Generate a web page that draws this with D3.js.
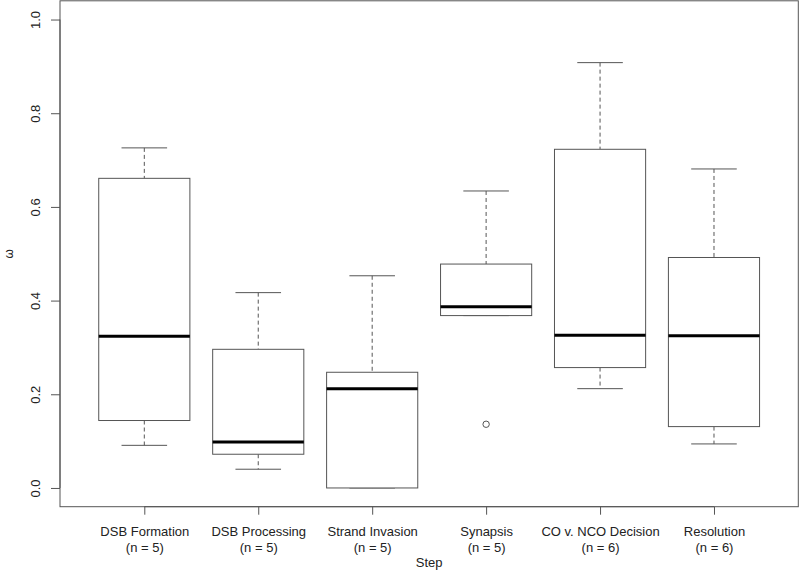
<!DOCTYPE html>
<html>
<head>
<meta charset="utf-8">
<script src="https://cdn.jsdelivr.net/npm/d3@7"></script>
<style>
  html, body { margin: 0; padding: 0; background: #fff; }
  svg { display: block; font-family: "Liberation Sans", Arial, Helvetica, sans-serif; }
</style>
</head>
<body>
<svg id="chart" width="800" height="572"></svg>
<script>
// ---- data ----
const categories = ["DSB Formation", "DSB Processing", "Strand Invasion", "Synapsis", "CO v. NCO Decision", "Resolution"];
const nCounts = [5, 5, 5, 5, 6, 6];
const whiskerLow  = [0.091, 0.040, 0.000, 0.368, 0.212, 0.094];
const q1          = [0.144, 0.072, 0.000, 0.368, 0.257, 0.131];
const medians     = [0.324, 0.098, 0.212, 0.387, 0.326, 0.325];
const q3          = [0.661, 0.296, 0.247, 0.478, 0.723, 0.492];
const whiskerHigh = [0.726, 0.417, 0.453, 0.634, 0.908, 0.681];
const outliers    = [[], [], [], [0.136], [], []];
const yTicks = [0.0, 0.2, 0.4, 0.6, 0.8, 1.0];
const yLabel = "ω";
const xLabel = "Step";

// ---- layout ----
const plotLeft = 60, plotRight = 798.3, plotTop = 0.8, plotBottom = 506.7;
const lineColor = "#555";
const fontSize = 13;

const svg = d3.select("#chart");

const positions = categories.map((c, i) => i + 1);
const x = d3.scaleLinear()
  .domain([0.5 - 0.24, categories.length + 0.5 + 0.24])
  .range([plotLeft, plotRight]);
const y = d3.scaleLinear()
  .domain([-0.04, 1.04])
  .range([plotBottom, plotTop]);

const boxHalf = 0.4, capHalf = 0.2;

const data = categories.map((c, i) => ({
  cat: c, pos: positions[i], n: nCounts[i],
  lo: whiskerLow[i], q1: q1[i], med: medians[i], q3: q3[i], hi: whiskerHigh[i],
  out: outliers[i]
}));

// whiskers (dashed)
const g = svg.append("g");
g.selectAll(".wh-up").data(data).join("line")
  .attr("x1", d => x(d.pos)).attr("x2", d => x(d.pos))
  .attr("y1", d => y(d.hi)).attr("y2", d => y(d.q3))
  .attr("stroke", lineColor).attr("stroke-width", 1).attr("stroke-dasharray", "4,3");
g.selectAll(".wh-lo").data(data).join("line")
  .attr("x1", d => x(d.pos)).attr("x2", d => x(d.pos))
  .attr("y1", d => y(d.q1)).attr("y2", d => y(d.lo))
  .attr("stroke", lineColor).attr("stroke-width", 1).attr("stroke-dasharray", "4,3");
// caps
g.selectAll(".cap-up").data(data).join("line")
  .attr("x1", d => x(d.pos - capHalf)).attr("x2", d => x(d.pos + capHalf))
  .attr("y1", d => y(d.hi)).attr("y2", d => y(d.hi))
  .attr("stroke", lineColor).attr("stroke-width", 1);
g.selectAll(".cap-lo").data(data).join("line")
  .attr("x1", d => x(d.pos - capHalf)).attr("x2", d => x(d.pos + capHalf))
  .attr("y1", d => y(d.lo)).attr("y2", d => y(d.lo))
  .attr("stroke", lineColor).attr("stroke-width", 1);
// boxes
g.selectAll(".box").data(data).join("rect")
  .attr("x", d => x(d.pos - boxHalf))
  .attr("width", d => x(d.pos + boxHalf) - x(d.pos - boxHalf))
  .attr("y", d => y(d.q3))
  .attr("height", d => Math.max(0, y(d.q1) - y(d.q3)))
  .attr("fill", "#fff").attr("stroke", lineColor).attr("stroke-width", 1);
// medians
g.selectAll(".med").data(data).join("line")
  .attr("x1", d => x(d.pos - boxHalf)).attr("x2", d => x(d.pos + boxHalf))
  .attr("y1", d => y(d.med)).attr("y2", d => y(d.med))
  .attr("stroke", "#000").attr("stroke-width", 3);
// outliers
const outPts = data.flatMap(d => d.out.map(v => ({pos: d.pos, v})));
g.selectAll(".out").data(outPts).join("circle")
  .attr("cx", d => x(d.pos)).attr("cy", d => y(d.v)).attr("r", 3.2)
  .attr("fill", "none").attr("stroke", lineColor).attr("stroke-width", 1);

// frame
svg.append("rect")
  .attr("x", plotLeft).attr("y", plotTop)
  .attr("width", plotRight - plotLeft).attr("height", plotBottom - plotTop)
  .attr("fill", "none").attr("stroke", lineColor).attr("stroke-width", 1);

// y axis
const yAxis = svg.append("g")
  .attr("transform", `translate(${plotLeft},0)`)
  .call(d3.axisLeft(y).tickValues(yTicks).tickSize(9).tickSizeOuter(0).tickFormat(d3.format(".1f")));
yAxis.select(".domain").attr("d", `M0,${y(0)}V${y(1)}`).attr("stroke", lineColor);
yAxis.selectAll(".tick line").attr("stroke", lineColor);
yAxis.selectAll(".tick text")
  .attr("x", null).attr("dy", null)
  .attr("transform", "translate(-20.5,0) rotate(-90)")
  .attr("text-anchor", "middle")
  .attr("font-size", fontSize).attr("fill", "#222")
  .attr("font-family", "Liberation Sans, Arial, sans-serif");

// x axis
const xAxis = svg.append("g")
  .attr("transform", `translate(0,${plotBottom})`)
  .call(d3.axisBottom(x).tickValues(positions).tickSize(8).tickSizeOuter(0).tickFormat((d, i) => categories[i]));
xAxis.select(".domain").attr("d", `M${x(1)},0H${x(categories.length)}`).attr("stroke", lineColor);
xAxis.selectAll(".tick line").attr("stroke", lineColor);
xAxis.selectAll(".tick text").each(function(d, i) {
  const t = d3.select(this);
  t.text(null).attr("y", null).attr("dy", null)
    .attr("font-size", fontSize).attr("fill", "#222")
    .attr("font-family", "Liberation Sans, Arial, sans-serif");
  t.append("tspan").attr("x", 0).attr("y", 29.2).text(categories[i]);
  t.append("tspan").attr("x", 0).attr("y", 45.6).text(`(n = ${nCounts[i]})`);
});

// axis titles
svg.append("text")
  .attr("x", (plotLeft + plotRight) / 2).attr("y", 567)
  .attr("text-anchor", "middle").attr("font-size", fontSize).attr("fill", "#222")
  .text(xLabel);
svg.append("text")
  .attr("transform", `translate(12.5,${(plotTop + plotBottom) / 2}) rotate(-90)`)
  .attr("text-anchor", "middle").attr("font-size", 12).attr("fill", "#222")
  .text(yLabel);
</script>
</body>
</html>
